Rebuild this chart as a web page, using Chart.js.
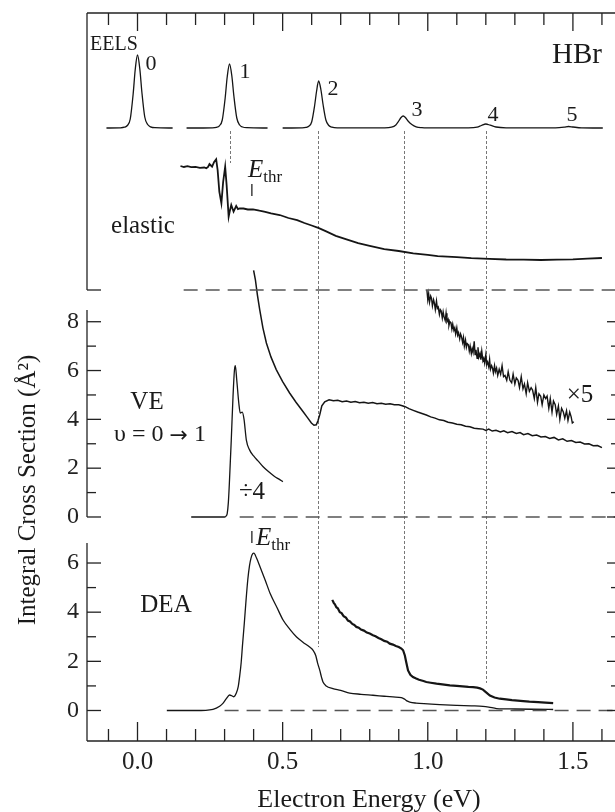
<!DOCTYPE html>
<html>
<head>
<meta charset="utf-8">
<script src="https://cdn.jsdelivr.net/npm/chart.js@4.4.1/dist/chart.umd.min.js"></script>
<style>
  html, body { margin: 0; padding: 0; background: #fff; }
  #wrap { position: relative; width: 615px; height: 812px; }
</style>
</head>
<body>
<div id="wrap"><canvas id="hbr"></canvas></div>
<script>
// values, energy in eV
const xTicks = [0, 0.5, 1.0, 1.5];
const veTicks = [0, 2, 4, 6, 8];
const deaTicks = [0, 2, 4, 6];

// EELS spectrum (arbitrary units), three baseline pieces
const eels0 = [[-0.107,0],[-0.06,0.2],[-0.045,0.8],[-0.035,2.5],[-0.025,9],[-0.015,34],[-0.008,58],[0,73],
  [0.008,59],[0.015,36],[0.025,11],[0.035,3.5],[0.045,1.2],[0.06,0.3],[0.121,0]];
const eels1 = [[0.169,0],[0.257,0.2],[0.272,0.7],[0.282,2.2],[0.292,8],[0.302,30],[0.309,51],[0.317,64],
  [0.325,52],[0.332,32],[0.342,10],[0.352,3],[0.362,1],[0.377,0.3],[0.448,0]];
const eels2 = [[0.500,0],[0.565,0.2],[0.580,0.6],[0.590,1.8],[0.600,6],[0.610,22],[0.617,37],[0.624,47],
  [0.632,38],[0.639,24],[0.649,8],[0.659,2.5],[0.670,0.8],[0.690,0.2],[0.750,0.1],
  [0.850,0.2],[0.875,0.8],[0.890,3],[0.900,7],[0.908,10.5],[0.915,12],[0.923,10.5],[0.932,7],[0.945,3.5],
  [0.960,1.2],[0.980,0.4],[1.020,0.1],[1.140,0.1],[1.170,0.8],[1.185,2.5],[1.200,4],[1.215,2.8],[1.235,1.0],
  [1.270,0.2],[1.440,0.1],[1.470,0.8],[1.485,1.5],[1.500,1.0],[1.530,0.2],[1.603,0]];

// elastic (arbitrary units)
const elastic = [[0.148,12.4],[0.160,12.3],[0.172,12.38],[0.185,12.28],[0.200,12.32],[0.215,12.22],[0.230,12.25],
  [0.237,12.17],[0.243,12.3],[0.248,12.6],[0.253,12.45],[0.257,12.33],[0.264,12.8],[0.271,13.07],[0.276,12.0],
  [0.282,9.8],[0.289,8.67],[0.295,10.8],[0.302,12.33],[0.307,10.5],[0.314,7.33],[0.318,7.9],[0.323,8.5],
  [0.331,7.83],[0.340,8.4],[0.346,8.1],[0.352,8.17],[0.365,8.15],[0.380,8.05],[0.398,8.07],[0.420,7.93],
  [0.440,7.82],[0.460,7.66],[0.490,7.5],[0.520,7.2],[0.550,6.99],[0.575,6.7],[0.600,6.45],[0.625,6.18],
  [0.650,5.86],[0.683,5.42],[0.720,5.06],[0.760,4.68],[0.800,4.42],[0.850,4.08],[0.900,3.9],[0.950,3.66],
  [1.000,3.52],[1.034,3.39],[1.100,3.29],[1.150,3.19],[1.212,3.11],[1.270,3.05],[1.330,3.04],[1.390,3.0],
  [1.445,3.04],[1.500,3.07],[1.550,3.13],[1.600,3.2]];

// VE v=0->1 (Å^2)
const veMain = [[0.400,10.1],[0.406,9.73],[0.413,9.1],[0.421,8.5],[0.432,7.75],[0.444,7.13],[0.460,6.55],
  [0.478,6.04],[0.500,5.55],[0.524,5.08],[0.546,4.7],[0.570,4.32],[0.585,4.08],[0.599,3.85],[0.608,3.76],
  [0.616,3.78],[0.622,3.95],[0.628,4.2],[0.635,4.55],[0.645,4.72],[0.660,4.8],[0.675,4.76],[0.690,4.78],
  [0.705,4.72],[0.720,4.75],[0.735,4.7],[0.750,4.73],[0.765,4.68],[0.780,4.7],[0.795,4.66],[0.810,4.69],
  [0.825,4.64],[0.840,4.66],[0.855,4.62],[0.870,4.64],[0.885,4.6],[0.900,4.6],[0.912,4.56],[0.922,4.52],
  [0.935,4.44],[0.950,4.37],[0.965,4.3],[0.980,4.24],[0.995,4.18],[1.010,4.1],[1.025,4.05],[1.040,3.98],
  [1.055,3.95],[1.070,3.88],[1.085,3.85],[1.100,3.8],[1.115,3.78],[1.130,3.72],[1.145,3.7],[1.160,3.64],
  [1.175,3.62],[1.190,3.6],[1.200,3.55],[1.210,3.6],[1.222,3.52],[1.235,3.55],[1.250,3.48],[1.262,3.53],
  [1.275,3.45],[1.290,3.5],[1.305,3.42],[1.318,3.46],[1.330,3.37],[1.345,3.42],[1.360,3.33],[1.375,3.36],
  [1.390,3.28],[1.405,3.3],[1.420,3.22],[1.435,3.26],[1.450,3.16],[1.465,3.2],[1.480,3.1],[1.495,3.13],
  [1.510,3.05],[1.525,3.07],[1.540,2.99],[1.555,3.0],[1.570,2.92],[1.585,2.93],[1.600,2.84]];
const veDiv4 = [[0.185,0],[0.250,0],[0.300,0],[0.306,0.05],[0.309,0.14],[0.313,0.6],[0.317,1.52],[0.323,3.15],
  [0.329,4.93],[0.334,6.02],[0.337,6.2],[0.342,5.6],[0.349,4.66],[0.354,4.26],[0.361,4.3],[0.367,4.0],
  [0.375,3.15],[0.386,2.75],[0.400,2.5],[0.415,2.3],[0.432,2.07],[0.450,1.87],[0.470,1.68],[0.490,1.53],[0.501,1.45]];
const veTimes5 = [[0.997,9.3],[1.000,8.9],[1.003,9.15],[1.006,8.8],[1.010,9.05],[1.013,8.95],[1.016,8.65],
  [1.020,8.9],[1.023,8.75],[1.026,8.5],[1.030,8.85],[1.033,8.55],[1.036,8.6],[1.040,8.3],[1.043,8.5],
  [1.046,8.45],[1.050,8.15],[1.053,8.4],[1.056,8.2],[1.060,8.05],[1.063,8.35],[1.066,8.0],[1.070,8.1],
  [1.073,7.85],[1.076,8.0],[1.080,7.95],[1.083,7.7],[1.086,7.9],[1.090,7.65],[1.093,7.75],[1.096,7.5],
  [1.100,7.75],[1.103,7.45],[1.106,7.55],[1.110,7.3],[1.113,7.5],[1.116,7.4],[1.120,7.15],[1.123,7.35],
  [1.126,7.0],[1.130,7.25],[1.133,6.95],[1.136,7.1],[1.140,7.05],[1.143,6.8],[1.146,7.0],[1.150,6.7],
  [1.153,6.9],[1.156,6.75],[1.160,7.2],[1.163,6.65],[1.166,6.85],[1.170,6.5],[1.173,6.95],[1.176,6.55],
  [1.180,6.7],[1.183,6.45],[1.186,6.8],[1.190,6.4],[1.193,6.5],[1.196,6.3],[1.200,6.65],[1.203,6.25],
  [1.206,6.35],[1.210,6.15],[1.213,6.45],[1.216,6.05],[1.220,6.2],[1.223,6.1],[1.226,5.9],[1.230,6.2],
  [1.233,5.95],[1.237,6.1],[1.241,5.8],[1.246,6.05],[1.251,5.85],[1.256,6.2],[1.261,5.75],[1.266,5.8],
  [1.272,5.6],[1.277,5.95],[1.283,5.6],[1.289,5.5],[1.294,5.85],[1.300,5.45],[1.305,5.7],[1.311,5.6],
  [1.316,5.3],[1.322,5.75],[1.328,5.25],[1.333,5.45],[1.339,5.05],[1.344,5.5],[1.350,5.15],[1.356,5.3],
  [1.361,5.2],[1.367,4.85],[1.372,5.3],[1.378,4.7],[1.383,5.05],[1.389,4.95],[1.394,4.6],[1.400,5.0],
  [1.406,4.85],[1.411,4.95],[1.417,4.45],[1.422,4.85],[1.428,4.3],[1.433,4.75],[1.439,4.6],[1.444,4.2],
  [1.450,4.55],[1.455,4.0],[1.461,4.45],[1.467,4.3],[1.472,4.05],[1.478,4.35],[1.483,3.95],[1.489,4.3],
  [1.494,4.1],[1.498,3.85],[1.503,3.9]];

// DEA (Å^2)
const deaMain = [[0.101,0],[0.200,0],[0.260,0.05],[0.283,0.17],[0.295,0.3],[0.306,0.48],[0.317,0.63],
  [0.325,0.6],[0.332,0.56],[0.340,0.7],[0.347,0.97],[0.352,1.4],[0.357,1.93],[0.362,2.7],[0.368,3.56],
  [0.374,4.5],[0.380,5.33],[0.386,5.9],[0.391,6.2],[0.397,6.38],[0.401,6.4],[0.410,6.2],[0.422,5.85],
  [0.440,5.3],[0.457,4.76],[0.480,4.2],[0.502,3.67],[0.525,3.3],[0.548,2.99],[0.570,2.78],[0.593,2.58],
  [0.605,2.45],[0.614,2.24],[0.620,1.95],[0.628,1.63],[0.634,1.35],[0.639,1.16],[0.650,1.0],[0.673,0.89],
  [0.700,0.82],[0.731,0.71],[0.770,0.66],[0.811,0.62],[0.850,0.58],[0.880,0.55],[0.909,0.52],[0.920,0.46],
  [0.930,0.38],[0.938,0.34],[0.960,0.3],[1.000,0.27],[1.041,0.24],[1.100,0.21],[1.150,0.19],[1.190,0.17],
  [1.210,0.14],[1.237,0.08],[1.300,0.06],[1.360,0.05],[1.432,0.04]];
const deaHigh = [[0.671,4.5],[0.676,4.38],[0.680,4.32],[0.685,4.2],[0.690,4.16],[0.697,4.0],[0.703,3.96],
  [0.710,3.84],[0.718,3.78],[0.725,3.66],[0.732,3.62],[0.740,3.52],[0.747,3.48],[0.754,3.4],[0.762,3.37],
  [0.770,3.29],[0.780,3.25],[0.790,3.17],[0.800,3.13],[0.811,3.06],[0.820,3.02],[0.830,2.95],[0.840,2.9],
  [0.850,2.83],[0.860,2.8],[0.869,2.72],[0.880,2.68],[0.890,2.62],[0.900,2.58],[0.909,2.52],[0.915,2.45],
  [0.921,2.24],[0.926,1.95],[0.932,1.63],[0.940,1.45],[0.949,1.36],[0.960,1.3],[0.970,1.25],[0.985,1.2],
  [0.995,1.16],[1.010,1.13],[1.030,1.09],[1.050,1.06],[1.076,1.02],[1.100,1.0],[1.120,0.98],[1.140,0.96],
  [1.156,0.95],[1.170,0.93],[1.180,0.9],[1.190,0.85],[1.200,0.75],[1.214,0.61],[1.230,0.53],[1.248,0.48],
  [1.270,0.45],[1.290,0.42],[1.310,0.4],[1.329,0.38],[1.350,0.36],[1.380,0.34],[1.405,0.32],[1.432,0.3]];

// vibrational thresholds: dashed drop lines and where they stop
const vibE = [0.317, 0.622, 0.917, 1.200];
const dropAxis = ['yEl', 'yDEA', 'yDEA', 'yDEA'];
const dropEnd = [12.7, 2.58, 2.73, 1.12];
const eThr = 0.394;

const pts = pairs => pairs.map(([x, y]) => ({x, y}));
const SERIF = "'Liberation Serif', 'Times New Roman', serif";
Chart.defaults.font.family = SERIF;
Chart.defaults.color = '#222';

function curve(pairs, axis, extra) {
  return Object.assign({
    data: pts(pairs), yAxisID: axis, borderColor: '#151515', borderWidth: 1.3,
    pointRadius: 0, fill: false, tension: 0
  }, extra);
}
function baseline(x0, x1, axis) {
  return curve([[x0, 0], [x1, 0]], axis, {borderColor: '#555', borderWidth: 1.4, borderDash: [14, 8]});
}
const smooth = {cubicInterpolationMode: 'monotone'};

const decor = {
  id: 'decor',
  beforeDatasetsDraw(chart) {
    const {ctx, scales: s} = chart;
    ctx.save();
    ctx.strokeStyle = '#777';
    ctx.lineWidth = 1;
    ctx.setLineDash([3, 2]);
    vibE.forEach((e, i) => {
      const x = Math.round(s.x.getPixelForValue(e)) + 0.5;
      ctx.beginPath();
      ctx.moveTo(x, s.yEELS.getPixelForValue(-3));
      ctx.lineTo(x, s[dropAxis[i]].getPixelForValue(dropEnd[i]));
      ctx.stroke();
    });
    ctx.restore();
  },
  afterDraw(chart) {
    const {ctx, chartArea: a, scales: s} = chart;
    ctx.save();
    ctx.strokeStyle = '#222';
    ctx.lineWidth = 1.3;
    const seg = (x0, y0, x1, y1) => { ctx.beginPath(); ctx.moveTo(x0, y0); ctx.lineTo(x1, y1); ctx.stroke(); };

    // frame
    seg(a.left, a.top, a.right, a.top);
    seg(a.left, a.bottom, a.right, a.bottom);
    seg(a.left, a.top, a.left, s.yEl.getPixelForValue(0));
    seg(a.left, s.yVE.getPixelForValue(8.48), a.left, s.yVE.getPixelForValue(0));
    seg(a.left, s.yDEA.getPixelForValue(6.81), a.left, a.bottom);
    seg(a.left, s.yEl.getPixelForValue(0), a.left + 14, s.yEl.getPixelForValue(0));

    // energy ticks top and bottom
    for (let k = -1; k <= 16; k++) {
      const x = s.x.getPixelForValue(k / 10);
      const major = k % 5 === 0;
      seg(x, a.top, x, a.top + (major ? 18 : 12));
      seg(x, a.bottom, x, a.bottom - (major ? 19 : 12));
    }
    // cross-section ticks, left and right
    [['yVE', 8], ['yDEA', 6]].forEach(([id, n]) => {
      for (let v = 0; v <= n; v++) {
        const y = s[id].getPixelForValue(v);
        const major = v % 2 === 0;
        seg(a.left, y, a.left + (major ? 14 : 9), y);
        seg(a.right, y, a.right - (major ? 8 : 4), y);
      }
    });

    // E_thr markers
    const xt = s.x.getPixelForValue(eThr);
    seg(xt, 184, xt, 196);
    seg(xt, 531, xt, 543);

    // texts
    ctx.fillStyle = '#1a1a1a';
    const txt = (t, x, y, size, align, style) => {
      ctx.font = (style || '') + ' ' + size + 'px ' + SERIF;
      ctx.textAlign = align || 'center';
      ctx.textBaseline = 'middle';
      ctx.fillText(t, x, y);
    };
    const runs = (parts, cx, y) => {
      ctx.textBaseline = 'middle';
      ctx.textAlign = 'left';
      let w = 0;
      parts.forEach(p => { ctx.font = p[1]; w += ctx.measureText(p[0]).width; });
      let x = cx - w / 2;
      parts.forEach(p => { ctx.font = p[1]; ctx.fillText(p[0], x, y + (p[2] || 0)); x += ctx.measureText(p[0]).width; });
    };
    const ethr = (x, y) => {
      ctx.textBaseline = 'alphabetic';
      ctx.textAlign = 'left';
      ctx.font = 'italic 25px ' + SERIF;
      ctx.fillText('E', x, y);
      const w = ctx.measureText('E').width;
      ctx.font = '17px ' + SERIF;
      ctx.fillText('thr', x + w, y + 5);
    };
    txt('EELS', 114, 45, 20);
    txt('HBr', 577, 55, 29);
    const lab = ['0', '1', '2', '3', '4', '5'];
    const labPos = [[151, 64], [245, 72], [333, 89], [417, 110], [493, 115], [572, 115]];
    lab.forEach((t, i) => txt(t, labPos[i][0], labPos[i][1], 22));
    txt('elastic', 143, 226, 25);
    ethr(248, 177);
    txt('VE', 147, 402, 25);
    runs([['\u03c5 = 0 ', '24px ' + SERIF], ['\u2192', "22px 'DejaVu Sans'", 1], [' 1', '24px ' + SERIF]], 160, 435);
    txt('\u00f74', 252, 492, 25);
    txt('\u00d75', 580, 395, 25);
    txt('DEA', 166, 605, 25);
    ethr(256, 545);

    // axis titles
    txt('Electron Energy (eV)', 369, 800, 26);
    ctx.translate(28, 490);
    ctx.rotate(-Math.PI / 2);
    txt('Integral Cross Section (\u00c5\u00b2)', 0, 0, 25);
    ctx.restore();
  }
};

function yAxis(weight, min, max, ticks) {
  return {
    type: 'linear', position: 'left', stack: 'panels', stackWeight: weight,
    min, max, clip: false,
    grid: {display: false, drawTicks: false}, border: {display: false},
    afterFit: sc => { sc.width = 87; sc.paddingTop = 0; sc.paddingBottom = 0; },
    afterBuildTicks: sc => { if (ticks) sc.ticks = ticks.map(v => ({value: v})); },
    ticks: {display: !!ticks, autoSkip: false, font: {size: 24}, color: '#222', padding: 8,
      callback: v => String(v)}
  };
}

new Chart(document.getElementById('hbr'), {
  type: 'line',
  data: {
    datasets: [
      curve(eels0, 'yEELS', smooth),
      curve(eels1, 'yEELS', smooth),
      curve(eels2, 'yEELS', smooth),
      baseline(0.159, 1.645, 'yEl'),
      curve(elastic, 'yEl', {borderWidth: 1.8}),
      baseline(0.352, 1.645, 'yVE'),
      curve(veDiv4, 'yVE', smooth),
      curve(veMain, 'yVE', {borderWidth: 1.5}),
      curve(veTimes5, 'yVE', {borderWidth: 1.4}),
      baseline(0.300, 1.645, 'yDEA'),
      curve(deaMain, 'yDEA', smooth),
      curve(deaHigh, 'yDEA', {borderWidth: 2.2})
    ]
  },
  options: {
    responsive: true,
    maintainAspectRatio: false,
    animation: false,
    layout: {padding: {top: 13, right: 0, bottom: 0, left: 0}},
    plugins: {legend: {display: false}, tooltip: {enabled: false}},
    scales: {
      x: {
        type: 'linear', position: 'bottom', min: -0.174, max: 1.645, clip: false,
        grid: {display: false, drawTicks: false}, border: {display: false},
        afterFit: sc => { sc.height = 71; sc.paddingLeft = 0; sc.paddingRight = 0; },
        afterBuildTicks: sc => { sc.ticks = xTicks.map(v => ({value: v})); },
        ticks: {font: {size: 25}, color: '#222', padding: 6, maxRotation: 0, autoSkip: false,
          callback: v => Number(v).toFixed(1)}
      },
      yDEA: yAxis(211, -1.241, 7.343, deaTicks),
      yVE: yAxis(230, -0.533, 8.89, veTicks),
      yEl: yAxis(160, -1.0, 15.0, null),
      yEELS: yAxis(127, -12, 115, null)
    }
  },
  plugins: [decor]
});
</script>
</body>
</html>
